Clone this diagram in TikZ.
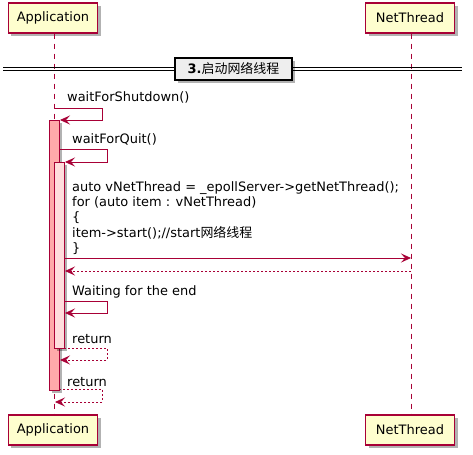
\documentclass[tikz,border=0pt]{standalone}
\usepackage{fontspec}
\setmainfont{DejaVu Sans}
\newfontfamily\cjk{Noto Sans CJK SC}
\usetikzlibrary{arrows.meta,shadows}
\definecolor{pu}{HTML}{A80036}
\definecolor{partfill}{HTML}{FEFECE}
\definecolor{actouter}{HTML}{FFAAAA}
\definecolor{actinner}{HTML}{FFDDDD}
\definecolor{divfill}{HTML}{EEEEEE}
\tikzset{
  part/.style={draw=pu, line width=1.2bp, fill=partfill, minimum width=89bp, minimum height=30bp, inner sep=0,
    drop shadow={shadow xshift=3bp, shadow yshift=-3bp, opacity=0.3, fill=black}},
  lifeline/.style={draw=pu, dash pattern=on 5bp off 5bp, line width=0.8bp},
  actbar/.style={draw=pu, line width=0.8bp, minimum width=10bp, inner sep=0, anchor=north,
    drop shadow={shadow xshift=3bp, shadow yshift=-3bp, opacity=0.3, fill=black}},
  msg/.style={draw=pu, line width=0.8bp, -{Stealth[length=10bp,width=9bp,inset=4bp]}},
  ret/.style={msg, dash pattern=on 2bp off 2bp},
  lbl/.style={anchor=base west, inner sep=0},
  divbox/.style={draw=black, line width=1.5bp, fill=divfill, minimum width=117bp, minimum height=22bp, inner sep=0,
    font=\fontsize{13}{15.5}\selectfont\bfseries,
    drop shadow={shadow xshift=3bp, shadow yshift=-3bp, opacity=0.3, fill=black}},
}
\begin{document}
\begin{tikzpicture}[x=1bp,y=-1bp,font=\fontsize{13}{15.5}\selectfont]
\path[use as bounding box, fill=white] (0,0) rectangle (473,455);
% participants
\node[part] (appT) at (53,18) {Application};
\node[part] (netT) at (410,18) {NetThread};
\node[part] (appB) at (53,430) {Application};
\node[part] (netB) at (410,430) {NetThread};
% lifelines
\draw[lifeline] (appT.south -| 54,0) -- (appB.north -| 54,0);
\draw[lifeline] (netT.south -| 411,0) -- (netB.north -| 411,0);
% divider
\coordinate (dl1) at (3,68); \coordinate (dr1) at (462,68);
\coordinate (dl2) at (3,71); \coordinate (dr2) at (462,71);
\draw[line width=1bp] (dl1) -- (dr1);
\draw[line width=1bp] (dl2) -- (dr2);
\node[divbox] (div) at (233.5,69) {3.{\cjk\mdseries 启动网络线程}};
% activation bars
\node[actbar, fill=actouter, minimum height=270bp] (act1) at (54,120) {};
\node[actbar, fill=actinner, minimum height=186bp] (act2) at (59,162) {};
% self message 1
\coordinate (s1a) at (54,108); \coordinate (s1b) at (60,120);
\draw[msg] (s1a) -- ++(48,0) |- (s1b);
\node[lbl] (t1) at (67,102) {waitForShutdown()};
% self message 2
\coordinate (s2a) at (59,149); \coordinate (s2b) at (65,162);
\draw[msg] (s2a) -- ++(48,0) |- (s2b);
\node[lbl] (t2) at (72,144) {waitForQuit()};
% message to NetThread
\node[anchor=north west, align=left, inner sep=0] (t3) at (72,181)
  {auto vNetThread = \_epollServer->getNetThread();\\
   for (auto item : vNetThread)\\
   \{\\
   item->start();//start{\cjk 网络线程}\\
   \}};
\coordinate (m1a) at (64,258); \coordinate (m1b) at (411,258);
\draw[msg] (m1a) -- (m1b);
\coordinate (r1a) at (411,271); \coordinate (r1b) at (65,271);
\draw[ret] (r1a) -- (r1b);
% self message 3
\coordinate (s3a) at (64,301); \coordinate (s3b) at (65,313);
\draw[msg] (s3a) -- ++(43,0) |- (s3b);
\node[lbl] (t4) at (72,295) {Waiting for the end};
% return 1
\coordinate (s4a) at (64,348); \coordinate (s4b) at (60,360);
\draw[ret] (s4a) -- ++(43,0) |- (s4b);
\node[lbl] (t5) at (72,343) {return};
% return 2
\coordinate (s5a) at (59,389); \coordinate (s5b) at (55,402);
\draw[ret] (s5a) -- ++(43,0) |- (s5b);
\node[lbl] (t6) at (67,386) {return};
\end{tikzpicture}
\end{document}
